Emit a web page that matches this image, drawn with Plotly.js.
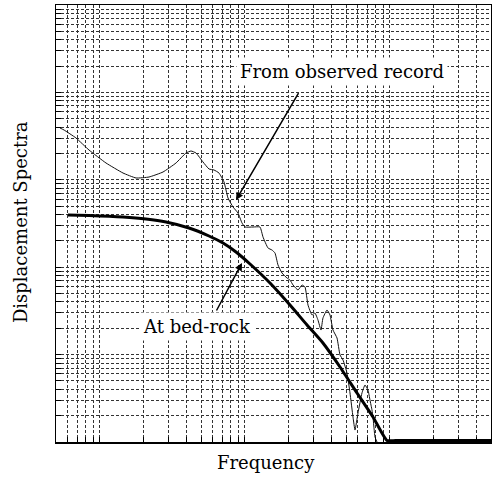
<!DOCTYPE html>
<html>
<head>
<meta charset="utf-8">
<script src="https://cdn.plot.ly/plotly-3.0.1.min.js"></script>
<style>html,body{margin:0;padding:0;background:#fff;}#chart{width:492px;height:478px;}</style>
</head>
<body>
<div id="chart"></div>
<script>
// Observed record spectrum (frequency, spectrum value)
const freqObserved = [0.0533,0.0568,0.0687,0.0844,0.1106,0.1449,0.1781,0.2190,0.2735,0.3362,
  0.3940,0.4266,0.4619,0.5162,0.5678,0.6146,0.6654,0.7205,0.7677,0.8312,
  0.8998,0.9588,1.0056,1.1418,1.2760,1.3383,1.4489,1.5440,1.6193,1.6983,
  1.8097,1.9592,2.0548,2.1551,2.3333,2.4862,2.6075,2.7352,2.9124,3.0545,
  3.2035,3.362,3.468,3.698,3.878,4.067,4.335,4.546,4.767,5.080,
  5.328,5.588,5.768,6.050,6.445,6.760,7.090,7.318,7.554,7.677,
  7.924,8.18];
const specObserved = [3.914,3.713,3.009,2.193,1.557,1.196,1.049,1.076,1.228,1.557,
  2.026,2.136,2.026,1.598,1.329,1.295,1.196,0.9436,0.6192,0.4885,
  0.4170,0.3205,0.2884,0.2884,0.2884,0.2216,0.1658,0.1573,0.1454,0.1060,
  0.0858,0.0752,0.0714,0.0626,0.0548,0.0626,0.0594,0.0369,0.0284,0.0299,
  0.0249,0.0191,0.0262,0.0324,0.0284,0.0191,0.0155,0.00990,0.00868,0.00616,
  0.00364,0.00193,0.00137,0.00215,0.00364,0.00449,0.00394,0.00302,0.00232,0.00193,
  0.00114,0.001];

// Bed-rock spectrum (flat tail lies on the lower edge of the chart)
const freqBedrock = [0.0605,0.0844,0.1449,0.2088,0.2868,0.4133,0.5678,0.7090,0.8716,1.0887,
  1.4957,2.0548,2.6916,3.468,4.546,5.954,7.677,9.588,11,20,50];
const specBedrock = [0.3957,0.3905,0.3754,0.3560,0.3291,0.2809,0.2275,0.1891,0.1493,0.1088,
  0.06595,0.03693,0.02182,0.01357,0.007212,0.003636,0.001932,0.00104,0.00104,0.00104,0.00104];

// Axis ranges (log scale, no labels shown)
const xRange = [0.05, 50];
const yRange = [0.001, 100];

// Labels
const xTitle = 'Frequency';
const yTitle = 'Displacement Spectra';
const labelObserved = 'From observed record';
const labelBedrock = 'At bed-rock';

// Arrow targets (points on curves)
const arrowObserved = {f: 0.8716, s: 0.587};
const arrowBedrock = {f: 0.9588, s: 0.1117};

function logTicks(lo, hi) {
  const out = [];
  for (let e = Math.floor(Math.log10(lo)); e <= Math.ceil(Math.log10(hi)); e++) {
    for (let m = 1; m <= 9; m++) {
      const v = m * Math.pow(10, e);
      if (v >= lo * 0.999 && v <= hi * 1.001) out.push(v);
    }
  }
  return out;
}

const FONT = 'DejaVu Serif';
const FS = 18;

const traces = [
  {x: freqObserved, y: specObserved, mode: 'lines', type: 'scatter',
   line: {color: '#111', width: 1, shape: 'spline', smoothing: 0.4}, hoverinfo: 'skip'},
  {x: freqBedrock, y: specBedrock, mode: 'lines', type: 'scatter',
   line: {color: '#000', width: 3, shape: 'spline', smoothing: 0.5}, hoverinfo: 'skip'}
];

const axisCommon = {
  type: 'log', showticklabels: false, showgrid: true,
  gridcolor: '#333', gridwidth: 1, griddash: '3px,2px',
  ticks: 'inside', ticklen: 5, tickcolor: '#000', tickwidth: 1,
  showline: true, linecolor: '#000', linewidth: 1.5, mirror: true, zeroline: false
};

const layout = {
  width: 492, height: 478,
  margin: {l: 56, r: 1, t: 5, b: 36},
  paper_bgcolor: '#fff', plot_bgcolor: '#fff',
  showlegend: false,
  font: {family: FONT, color: '#000'},
  xaxis: Object.assign({}, axisCommon, {
    range: [Math.log10(xRange[0]), Math.log10(xRange[1])],
    tickvals: logTicks(xRange[0], xRange[1])
  }),
  yaxis: Object.assign({}, axisCommon, {
    range: [Math.log10(yRange[0]), Math.log10(yRange[1])],
    tickvals: logTicks(yRange[0], yRange[1])
  }),
  annotations: [
    {xref: 'paper', yref: 'paper', x: 0.4828, y: -0.046, text: xTitle, showarrow: false,
     font: {family: FONT, size: FS, color: '#000'}, xanchor: 'center', yanchor: 'middle'},
    {xref: 'paper', yref: 'paper', x: -0.083, y: 0.503, text: yTitle, showarrow: false, textangle: -90,
     font: {family: FONT, size: FS, color: '#000'}, xanchor: 'center', yanchor: 'middle'},
    {xref: 'x', yref: 'y', x: Math.log10(arrowObserved.f), y: Math.log10(arrowObserved.s), text: ' ',
     showarrow: true, arrowhead: 2, arrowsize: 1, arrowwidth: 1.5, arrowcolor: '#000', ax: 66, ay: -113},
    {xref: 'x', yref: 'y', x: Math.log10(arrowBedrock.f), y: Math.log10(arrowBedrock.s), text: ' ',
     showarrow: true, arrowhead: 2, arrowsize: 1, arrowwidth: 1.5, arrowcolor: '#000', ax: -29, ay: 54},
    {xref: 'paper', yref: 'paper', x: 0.6575, y: 0.8467, text: labelObserved, showarrow: false,
     font: {family: FONT, size: FS, color: '#000'}, bgcolor: '#fff', borderpad: 3,
     xanchor: 'center', yanchor: 'middle'},
    {xref: 'paper', yref: 'paper', x: 0.3241, y: 0.2632, text: labelBedrock, showarrow: false,
     font: {family: FONT, size: FS, color: '#000'}, bgcolor: '#fff', borderpad: 3,
     xanchor: 'center', yanchor: 'middle'}
  ]
};

Plotly.newPlot('chart', traces, layout, {staticPlot: true, displayModeBar: false});
</script>
</body>
</html>
